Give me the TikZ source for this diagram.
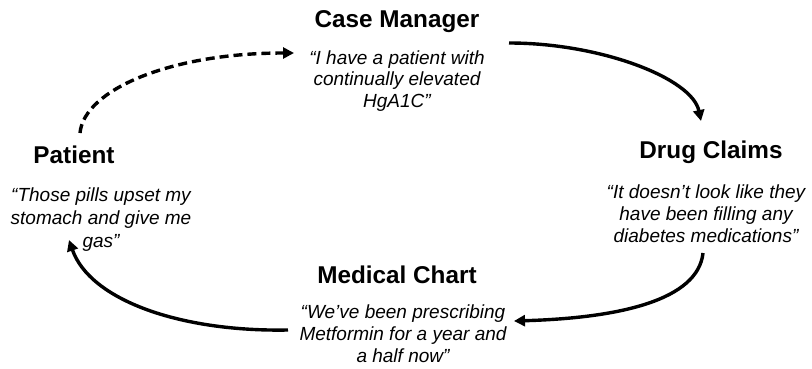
\documentclass[tikz,border=0pt]{standalone}
\usepackage{fontspec}
\setmainfont{Liberation Sans}
\usetikzlibrary{arrows.meta}
\tikzset{
  title/.style={font=\fontsize{24.3}{28}\selectfont\bfseries, inner sep=0pt, anchor=base},
  quote/.style={font=\fontsize{19}{#1}\selectfont\itshape, align=center, inner sep=0pt, anchor=north},
  flow/.style={line width=3.4pt, -{Triangle[length=11pt,width=11pt]}},
  flowdash/.style={flow, dash pattern=on 9pt off 5pt}
}
\begin{document}
\begin{tikzpicture}[x=1pt,y=-1pt]
\useasboundingbox (0,0) rectangle (812,369);
% titles
\node[title] (cmT) at (397,28) {Case Manager};
\node[title] (dcT) at (711,158) {Drug Claims};
\node[title] (mcT) at (397,283) {Medical Chart};
\node[title] (ptT) at (74,163) {Patient};
% quotes (north = first baseline - 13.6)
\node[quote=21.5] (cmQ) at (397,50.4) {“I have a patient with\\continually elevated\\HgA1C”};
\node[quote=22] (dcQ) at (706,184.4) {“It doesn’t look like they\\have been filling any\\diabetes medications”};
\node[quote=22] (mcQ) at (403,304.4) {“We’ve been prescribing\\Metformin for a year and\\a half now”};
\node[quote=23] (ptQ) at (101,187.4) {“Those pills upset my\\stomach and give me\\gas”};
% connector end points
\coordinate (a1) at (80,133);
\coordinate (a2) at (294,53);
\coordinate (b1) at (509,43);
\coordinate (b2) at (701,121);
\coordinate (c1) at (703,253);
\coordinate (c2) at (514,321);
\coordinate (d1) at (288,330);
\coordinate (d2) at (69,240);
% connectors
\draw[flowdash] (a1) .. controls (84,90) and (170,53) .. (a2);
\draw[flow] (b1) .. controls (600,43) and (692,78) .. (b2);
\draw[flow] (c1) .. controls (698,300) and (620,318) .. (c2);
\draw[flow] (d1) .. controls (180,332) and (90,300) .. (d2);
\end{tikzpicture}
\end{document}
